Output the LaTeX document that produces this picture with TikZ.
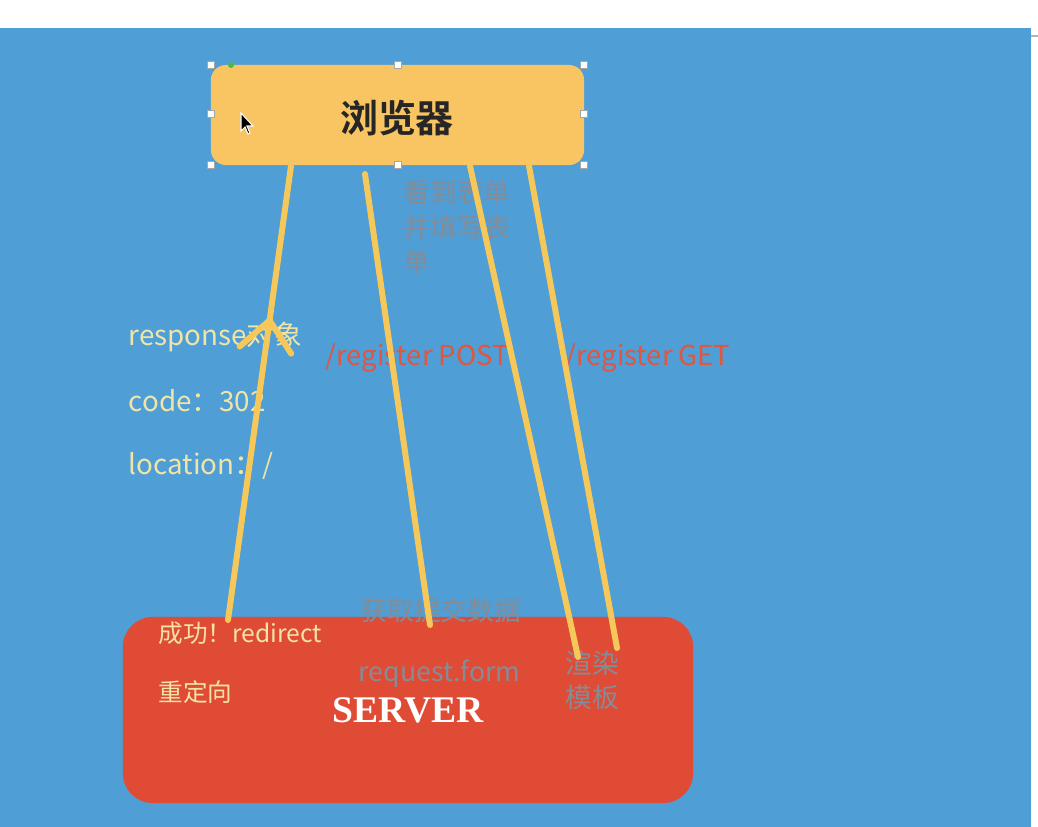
\documentclass[tikz,border=0pt]{standalone}
\usepackage{fontspec}
\setmainfont{Noto Sans CJK SC}
\newfontfamily\cjkbold{Noto Sans CJK SC}[UprightFont=* Bold]
\newfontfamily\serverfont{Liberation Serif}
\usetikzlibrary{arrows.meta,decorations.markings}
\definecolor{bgblue}{HTML}{4F9ED6}
\definecolor{boxorange}{HTML}{F9C563}
\definecolor{boxred}{HTML}{E04B36}
\definecolor{chalk}{HTML}{F6C85A}
\definecolor{pale}{HTML}{F0E4A6}
\definecolor{redtxt}{HTML}{E2553F}
\definecolor{graytxt}{HTML}{868C96}
\begin{document}
\begin{tikzpicture}[x=0.01cm,y=-0.01cm,
  chalkline/.style={draw=chalk,line width=1.7pt,line cap=round},
  handle/.style={draw=gray!70,fill=white,line width=0.3pt,minimum size=0.07cm,inner sep=0pt},
  paletxt/.style={text=pale,anchor=west,inner sep=0pt,font=\fontsize{7}{8}\selectfont},
  bigpale/.style={paletxt,font=\fontsize{7.9}{9}\selectfont},
  graytext/.style={text=graytxt,anchor=west,inner sep=0pt,font=\fontsize{7.6}{10}\selectfont},
  redtext/.style={text=redtxt,anchor=west,inner sep=0pt,font=\fontsize{7.8}{9}\selectfont}]
\useasboundingbox (0,0) rectangle (1038,827);
\fill[white] (0,0) rectangle (1038,827);
\fill[bgblue] (0,28) rectangle (1031,827);
\draw[gray!60,line width=0.4pt] (1031,36) -- (1038,36);
% boxes
\node[fill=boxorange,rounded corners=4.3pt,minimum width=3.73cm,minimum height=1cm,inner sep=0pt] (browser) at (397.5,115) {};
\node[font=\cjkbold\fontsize{10.8}{12}\selectfont,text=black!85,inner sep=0pt] (browsertxt) at (397,118) {浏览器};
\node[fill=boxred,rounded corners=8.5pt,minimum width=5.7cm,minimum height=1.86cm,inner sep=0pt] (server) at (408,710) {};
\node[font=\serverfont\bfseries\fontsize{10.7}{12}\selectfont,text=white,inner sep=0pt] (servertxt) at (408,710) {SERVER};
% selection handles
\foreach \n/\p in {h1/{(211,65)},h2/{(398,65)},h3/{(584,65)},h4/{(211,114)},h5/{(584,114)},h6/{(211,165)},h7/{(398,165)},h8/{(584,165)}}
  \node[handle] (\n) at \p {};
\node[circle,fill=green!60!black!70,minimum size=0.06cm,inner sep=0pt] (rot) at (231,65) {};
% cursor
\filldraw[fill=black,draw=white,line width=0.3pt] (241,113) -- (241,131) -- (245,127) -- (248,134) -- (250,133) -- (247,126) -- (253,126) -- cycle;
% texts
\node[graytext] (t1) at (403,192) {看到表单};
\node[graytext] (t2) at (403,227) {并填写表};
\node[graytext] (t3) at (403,261) {单};
\node[bigpale] (r1) at (128,337) {response对象};
\node[bigpale] (r2) at (128,401) {code：302};
\node[bigpale] (r3) at (128,466) {location：/};
\node[redtext] (p1) at (325,358) {/register POST};
\node[redtext] (p2) at (565,358) {/register GET};
\node[graytext] (g1) at (360,610) {获取提交数据};
\node[graytext] (g2) at (358,674) {request.form};
\node[graytext] (g3) at (565,663) {渲染};
\node[graytext] (g4) at (565,697) {模板};
\node[paletxt] (y1) at (158,633) {成功！redirect};
\node[paletxt] (y2) at (158,692) {重定向};
% connector end points
\coordinate (b1) at (291,166);
\coordinate (s1) at (228,620);
\coordinate (b2) at (365,174);
\coordinate (s2) at (430,625);
\coordinate (b3) at (470,166);
\coordinate (s3) at (578,657);
\coordinate (b4) at (529,166);
\coordinate (s4) at (617,648);
% connectors
\draw[chalkline,postaction={decorate,decoration={markings,
   mark=at position 0.67 with {\arrow[chalk,line width=1.7pt]{Straight Barb[length=0.3cm,width=0.52cm,line cap=round]}}}}] (s1) -- (b1);
\draw[chalkline] (b2) -- (s2);
\draw[chalkline] (b3) -- (s3);
\draw[chalkline] (b4) -- (s4);
\end{tikzpicture}
\end{document}
